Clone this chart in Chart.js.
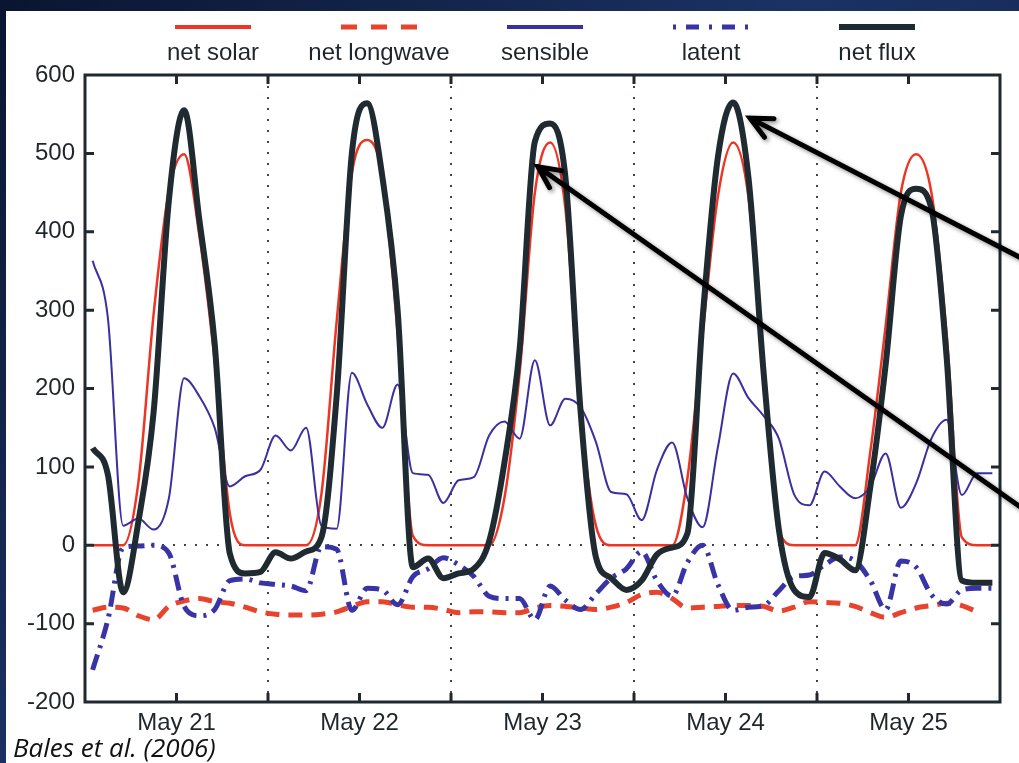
<!DOCTYPE html>
<html>
<head>
<meta charset="utf-8">
<title>Surface energy fluxes, May 21-25</title>
<script src="https://cdn.jsdelivr.net/npm/chart.js@4.4.1/dist/chart.umd.min.js"></script>
<style>
  html, body { margin: 0; padding: 0; }
  body {
    width: 1019px; height: 763px; overflow: hidden; position: relative;
    background: linear-gradient(135deg, #0a1530 0%, #1b3263 45%, #0e1d40 100%);
  }
  #panel { position: absolute; left: 6px; top: 11px; width: 1013px; height: 752px; background: #fff; }
  #source {
    position: absolute; left: 13px; top: 729px;
    font: italic 26px "Open Sans", "DejaVu Sans", sans-serif; color: #111;
  }
</style>
</head>
<body>
<div id="panel"><canvas id="flux-chart"></canvas></div>
<div id="source">Bales et al. (2006)</div>
<script>
// hours since May 20 00:00, one reading every two hours
const hours = [13, 15, 17, 19, 21, 23, 25, 27, 29, 31, 33, 35, 37, 39, 41, 43, 45, 47, 49, 51,
               53, 55, 57, 59, 61, 63, 65, 67, 69, 71, 73, 75, 77, 79, 81, 83, 85, 87, 89, 91,
               93, 95, 97, 99, 101, 103, 105, 107, 109, 111, 113, 115, 117, 119, 121, 123, 125, 127, 129, 131];

// W/m2
const netSolar = [0, 0, 0, 80, 295, 452, 499, 395, 236, 40,
                  0, 0, 0, 0, 0, 65, 285, 475, 517, 470,
                  270, 12, 0, 0, 0, 0, 0, 60, 220, 450,
                  514, 430, 170, 25, 0, 0, 0, 0, 0, 85,
                  270, 445, 514, 445, 220, 20, 0, 0, 0, 0,
                  0, 120, 280, 450, 499, 450, 270, 10, 0, 0];
const netLongwave = [-83, -79, -80, -90, -95, -78, -71, -68, -72, -74,
                     -79, -85, -88, -89, -89, -88, -85, -78, -72, -72,
                     -76, -79, -79, -82, -86, -85, -85, -86, -86, -80,
                     -77, -78, -80, -82, -79, -73, -63, -60, -68, -80,
                     -79, -78, -77, -77, -78, -84, -79, -72, -73, -74,
                     -78, -86, -92, -86, -80, -77, -74, -77, -85, null];
const sensible = [363, 290, 25, 34, 20, 60, 213, 190, 150, 75,
                  88, 96, 140, 121, 150, 25, 21, 220, 180, 150,
                  205, 92, 90, 54, 83, 87, 140, 158, 136, 236,
                  153, 187, 176, 132, 68, 65, 32, 96, 131, 60,
                  23, 125, 219, 188, 165, 136, 65, 51, 94, 75,
                  60, 75, 117, 48, 79, 136, 160, 64, 92, 92];
const latent = [-159, -95, -3, -1, 0, -10, -78, -90, -82, -45,
                -43, -48, -50, -52, -58, -2, -5, -83, -55, -57,
                -76, -40, -30, -16, -25, -40, -65, -68, -68, -95,
                -52, -70, -82, -62, -42, -30, -8, -45, -65, -22,
                0, -50, -83, -79, -77, -58, -40, -38, -25, -15,
                -20, -45, -82, -20, -28, -63, -75, -57, -55, -55];
const netFlux = [124, 90, -60, 30, 170, 440, 555, 415, 258, -11,
                 -36, -34, -9, -17, -8, 10, 190, 500, 564, 470,
                 300, -28, -17, -42, -36, -30, 5, 105, 250, 515,
                 538, 470, 170, -15, -42, -57, -45, -12, -3, 15,
                 290, 495, 565, 470, 220, 20, -57, -66, -10, -18,
                 -32, 75, 230, 420, 455, 430, 240, -45, -48, -48];

// x axis in days of May
const tickDays = [20.5, 21, 21.5, 22, 22.5, 23, 23.5, 24, 24.5, 25, 25.5];
const labelDays = [21, 22, 23, 24, 25];
const dayLabels = ['May 21', 'May 22', 'May 23', 'May 24', 'May 25'];
const gridDays = [21.5, 22.5, 23.5, 24.5];

// annotation arrows, in data units (day, W/m2)
const arrows = [
    { from: [25.72, 354], to: [24.134, 545] },
    { from: [25.72, 31], to: [22.975, 483] }
];

const axisColor = '#1f292f';
const textColor = '#1f262b';
const fontFamily = '"Liberation Sans", Arial, sans-serif';

function toPoints(values) {
    return hours.map((h, i) => ({ x: 20 + h / 24, y: values[i] }));
}

const frame = {
    id: 'frame',
    afterDatasetsDraw(chart) {
        const { ctx, chartArea: a, scales: { x, y } } = chart;
        ctx.save();
        ctx.strokeStyle = axisColor;
        ctx.lineWidth = 3;
        ctx.strokeRect(a.left, a.top, a.right - a.left, a.bottom - a.top);
        ctx.beginPath();
        x.ticks.forEach(t => {
            const px = x.getPixelForValue(t.value);
            if (px <= a.left + 1 || px >= a.right - 1) return;
            ctx.moveTo(px, a.bottom); ctx.lineTo(px, a.bottom - 9);
            ctx.moveTo(px, a.top); ctx.lineTo(px, a.top + 9);
        });
        y.ticks.forEach(t => {
            const py = y.getPixelForValue(t.value);
            if (py <= a.top + 1 || py >= a.bottom - 1) return;
            ctx.moveTo(a.left, py); ctx.lineTo(a.left + 9, py);
            ctx.moveTo(a.right, py); ctx.lineTo(a.right - 9, py);
        });
        ctx.stroke();
        ctx.restore();
    }
};

const topLegend = {
    id: 'topLegend',
    afterDraw(chart) {
        const ctx = chart.ctx;
        chart.data.datasets.forEach((ds, i) => {
            const cx = 207 + i * 166;
            ctx.save();
            ctx.strokeStyle = ds.borderColor;
            ctx.lineWidth = Math.max(ds.borderWidth, 4);
            ctx.setLineDash(ds.legendDash || []);
            ctx.beginPath();
            ctx.moveTo(cx - 38, 16);
            ctx.lineTo(cx + 38, 16);
            ctx.stroke();
            ctx.fillStyle = textColor;
            ctx.font = '24px ' + fontFamily;
            ctx.textAlign = 'center';
            ctx.textBaseline = 'middle';
            ctx.fillText(ds.label, cx, 42);
            ctx.restore();
        });
    }
};

const arrowPlugin = {
    id: 'arrows',
    afterDraw(chart) {
        const { ctx, scales: { x, y } } = chart;
        ctx.save();
        ctx.strokeStyle = '#000';
        ctx.lineWidth = 5;
        ctx.lineCap = 'round';
        ctx.shadowColor = 'rgba(0,0,0,0.45)';
        ctx.shadowBlur = 4;
        ctx.shadowOffsetX = 2;
        ctx.shadowOffsetY = 2;
        arrows.forEach(a => {
            const x0 = x.getPixelForValue(a.from[0]), y0 = y.getPixelForValue(a.from[1]);
            const x1 = x.getPixelForValue(a.to[0]), y1 = y.getPixelForValue(a.to[1]);
            const ang = Math.atan2(y0 - y1, x0 - x1);
            ctx.beginPath();
            ctx.moveTo(x0, y0);
            ctx.lineTo(x1, y1);
            ctx.moveTo(x1 + 24 * Math.cos(ang - 0.45), y1 + 24 * Math.sin(ang - 0.45));
            ctx.lineTo(x1, y1);
            ctx.lineTo(x1 + 24 * Math.cos(ang + 0.45), y1 + 24 * Math.sin(ang + 0.45));
            ctx.stroke();
        });
        ctx.restore();
    }
};

const fluxChart = new Chart(document.getElementById('flux-chart'), {
    type: 'line',
    data: {
        datasets: [{
            label: 'net solar',
            data: toPoints(netSolar),
            borderColor: '#ee3524',
            borderWidth: 2.5,
            order: 4
        }, {
            label: 'net longwave',
            data: toPoints(netLongwave),
            borderColor: '#e8432c',
            borderWidth: 5,
            borderDash: [14, 9],
            legendDash: [16, 14],
            order: 3
        }, {
            label: 'sensible',
            data: toPoints(sensible),
            borderColor: '#3b30a0',
            borderWidth: 2,
            order: 2
        }, {
            label: 'latent',
            data: toPoints(latent),
            borderColor: '#3934a6',
            borderWidth: 5,
            borderDash: [16, 7, 3, 7],
            legendDash: [3, 10, 13, 10],
            order: 1
        }, {
            label: 'net flux',
            data: toPoints(netFlux),
            borderColor: '#1f2b31',
            borderWidth: 6,
            order: 0
        }]
    },
    options: {
        responsive: true,
        maintainAspectRatio: false,
        devicePixelRatio: 1,
        animation: false,
        layout: { padding: { top: 64, right: 19, left: 0, bottom: 0 } },
        elements: {
            point: { radius: 0 },
            line: { cubicInterpolationMode: 'monotone', fill: false, borderCapStyle: 'butt' }
        },
        plugins: {
            legend: { display: false },
            tooltip: { enabled: false }
        },
        scales: {
            x: {
                type: 'linear',
                min: 20.5,
                max: 25.5,
                afterBuildTicks: s => { s.ticks = tickDays.map(v => ({ value: v })); },
                afterFit: s => { s.height = 61; },
                ticks: {
                    autoSkip: false,
                    maxRotation: 0,
                    padding: 7,
                    color: textColor,
                    font: { size: 24, family: fontFamily },
                    callback: v => {
                        const i = labelDays.indexOf(v);
                        return i >= 0 ? dayLabels[i] : '';
                    }
                },
                grid: {
                    color: c => gridDays.includes(c.tick && c.tick.value) ? '#444' : 'transparent',
                    lineWidth: 2,
                    drawTicks: false
                },
                border: { display: false, dash: [2, 9] }
            },
            y: {
                min: -200,
                max: 600,
                afterFit: s => { s.width = 79; },
                ticks: {
                    stepSize: 100,
                    padding: 10,
                    color: textColor,
                    font: { size: 24, family: fontFamily }
                },
                grid: {
                    color: c => (c.tick && c.tick.value === 0) ? '#444' : 'transparent',
                    lineWidth: 2,
                    drawTicks: false
                },
                border: { display: false, dash: [2, 9] }
            }
        }
    },
    plugins: [frame, topLegend, arrowPlugin]
});
</script>
</body>
</html>
